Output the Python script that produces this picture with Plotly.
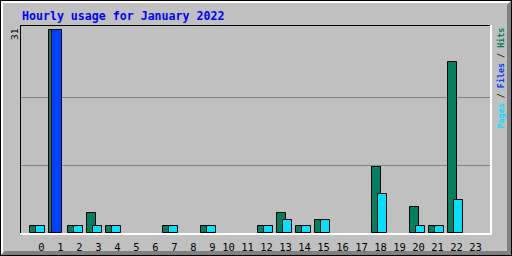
import plotly.graph_objects as go

# ---- data ----
hours = list(range(24))
hits = [1, 31, 1, 3, 1, 0, 0, 1, 0, 1, 0, 0, 1, 3, 1, 2, 0, 0, 10, 0, 4, 1, 26, 0]
files = [0, 31, 0, 0, 0, 0, 0, 0, 0, 0, 0, 0, 0, 0, 0, 0, 0, 0, 0, 0, 0, 0, 0, 0]
pages = [1, 0, 1, 1, 1, 0, 0, 1, 0, 1, 0, 0, 1, 2, 1, 2, 0, 0, 6, 0, 1, 1, 5, 0]
hour_labels = [str(h) for h in hours]
title_text = "Hourly usage for January 2022"

W, H = 512, 256
L, R, T, B = 21, 22, 26, 23
PW, PH = W - L - R, H - T - B
UNIT = 19.0  # pixels per hour
X0 = -(29.8 - L) / UNIT
X1 = X0 + PW / UNIT
ymax = max(hits + files + pages)
YTOP = ymax * PH / (PH - 3.7)

def px(x):
    return (x - L) / PW

def py(y):
    return (H - B - y) / PH

def nz(v):
    return [a if a else None for a in v]

bw = 9.5 / UNIT
fig = go.Figure()
for name, vals, col, off in [("Hits", hits, "#00805F", 0.0),
                             ("Files", files, "#0040FF", 3.4 / UNIT),
                             ("Pages", pages, "#00E0FF", 6.0 / UNIT)]:
    fig.add_trace(go.Bar(x=hours, y=nz(vals), name=name, width=bw, offset=off,
                         marker=dict(color=col, line=dict(color="black", width=1)),
                         showlegend=False, hoverinfo="skip"))

tickpos = [h + ((12.0 if len(s) == 1 else 9.3) - 0.5) / UNIT for h, s in zip(hours, hour_labels)]

shapes = []
def path(pts, color):
    d = "M " + " L ".join(f"{px(a):.5f},{py(b):.5f}" for a, b in pts) + " Z"
    shapes.append(dict(type="path", xref="paper", yref="paper", path=d,
                       fillcolor=color, line=dict(width=0), layer="above"))
def line(x0, y0, x1, y1, color, w=1):
    shapes.append(dict(type="line", xref="paper", yref="paper",
                       x0=px(x0), y0=py(y0), x1=px(x1), y1=py(y1),
                       line=dict(color=color, width=w), layer="above"))

# outer bevel
path([(1, 1), (511, 1), (509, 3), (3, 3)], "white")
path([(1, 1), (1, 255), (3, 253), (3, 3)], "white")
path([(1, 255), (511, 255), (507, 251), (5, 251)], "#808080")
path([(511, 1), (511, 255), (507, 251), (507, 5)], "#808080")
line(0, 0.5, 512, 0.5, "black")
line(0.5, 0, 0.5, 256, "black")
line(0, 255.5, 512, 255.5, "black")
line(511.5, 0, 511.5, 256, "black")
# plot frame
line(20, 25.5, 492, 25.5, "black")
line(20.5, 25, 20.5, 235, "black")
line(20, 234, 492, 234, "white", 2)
line(491, 25, 491, 235, "white", 2)

annotations = [
    dict(text=f"<b>{title_text}</b>", xref="paper", yref="paper", x=px(19.5), y=py(16),
         xanchor="left", yanchor="middle", showarrow=False,
         font=dict(family="DejaVu Sans Mono", size=11.6, color="#0000FF")),
    dict(text=str(ymax), xref="paper", yref="paper", x=px(15), y=py(34),
         xanchor="center", yanchor="middle", showarrow=False, textangle=-90,
         font=dict(family="DejaVu Sans Mono", size=9.5, color="black")),
    dict(text='<span style="color:#00E0FF">Pages</span> / '
              '<span style="color:#0040FF">Files</span> / '
              '<span style="color:#00805F">Hits</span>',
         xref="paper", yref="paper", x=px(500.5), y=py(78),
         xanchor="center", yanchor="middle", showarrow=False, textangle=-90,
         font=dict(family="DejaVu Sans Mono", size=8.4, color="black", weight="bold")),
]

fig.update_layout(
    width=W, height=H, margin=dict(l=L, r=R, t=T, b=B, pad=0, autoexpand=False),
    paper_bgcolor="#C0C0C0", plot_bgcolor="#C0C0C0",
    barmode="overlay", bargap=0,
    xaxis=dict(range=[X0, X1], tickvals=tickpos, ticktext=hour_labels,
               showgrid=False, zeroline=False, showline=False, ticks="",
               ticklabelstandoff=6, automargin=False,
               tickfont=dict(family="DejaVu Sans Mono", size=10.5, color="black"),
               fixedrange=True),
    yaxis=dict(range=[0, YTOP], tickvals=[ymax / 3, 2 * ymax / 3],
               showticklabels=False, showgrid=True, gridcolor="#808080", gridwidth=1,
               zeroline=False, showline=False, ticks="", fixedrange=True,
               automargin=False),
    shapes=shapes, annotations=annotations,
)
fig.write_html("out.html", config={"displayModeBar": False})
